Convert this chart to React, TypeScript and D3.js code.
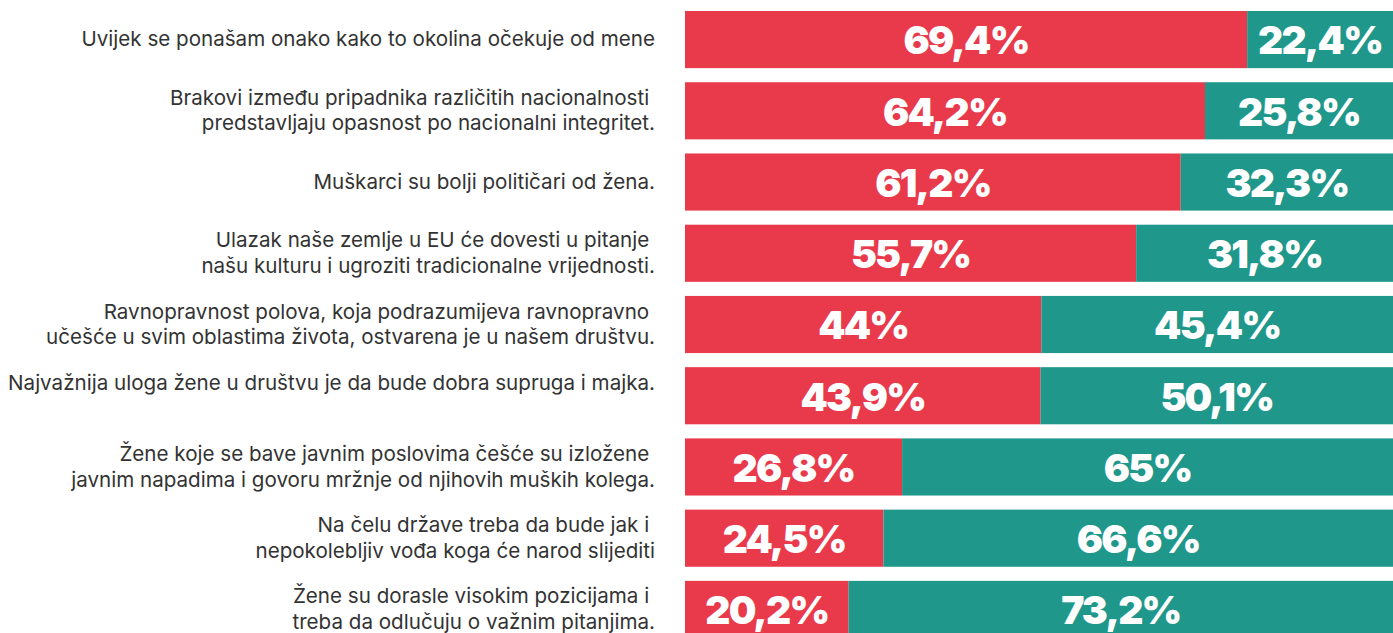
import React from "react";
import * as d3 from "d3";

const categories: string[] = [
  "Uvijek se ponašam onako kako to okolina očekuje od mene",
  "Brakovi između pripadnika različitih nacionalnosti \npredstavljaju opasnost po nacionalni integritet.",
  "Muškarci su bolji političari od žena.",
  "Ulazak naše zemlje u EU će dovesti u pitanje \nnašu kulturu i ugroziti tradicionalne vrijednosti.",
  "Ravnopravnost polova, koja podrazumijeva ravnopravno \nučešće u svim oblastima života, ostvarena je u našem društvu.",
  "Najvažnija uloga žene u društvu je da bude dobra supruga i majka.\n",
  "Žene koje se bave javnim poslovima češće su izložene \njavnim napadima i govoru mržnje od njihovih muških kolega.",
  "Na čelu države treba da bude jak i \nnepokolebljiv vođa koga će narod slijediti",
  "Žene su dorasle visokim pozicijama i \ntreba da odlučuju o važnim pitanjima.",
];
const agreeValues: number[] = [69.4, 64.2, 61.2, 55.7, 44, 43.9, 26.8, 24.5, 20.2];
const disagreeValues: number[] = [22.4, 25.8, 32.3, 31.8, 45.4, 50.1, 65, 66.6, 73.2];
const agreeLabels: string[] = ["69,4%", "64,2%", "61,2%", "55,7%", "44%", "43,9%", "26,8%", "24,5%", "20,2%"];
const disagreeLabels: string[] = ["22,4%", "25,8%", "32,3%", "31,8%", "45,4%", "50,1%", "65%", "66,6%", "73,2%"];

const W = 1393;
const H = 633;
const RED = "#e93a4b";
const TEAL = "#1f978b";

export default function App() {
  const x = d3.scaleLinear().domain([0, 100]).range([685, 685 + 810]);
  const y = d3
    .scaleBand<number>()
    .domain(d3.range(categories.length))
    .range([11, 638])
    .paddingInner(0.198)
    .paddingOuter(0);
  const bw = y.bandwidth();
  const lineH = 25.5;

  return (
    <svg
      width={W}
      height={H}
      style={{ position: "absolute", left: 0, top: 0, overflow: "hidden" }}
    >
      <rect x={0} y={0} width={W} height={H} fill="#ffffff" />
      {categories.map((c, i) => {
        const y0 = y(i)!;
        const cy = y0 + bw / 2;
        const xr0 = x(0);
        const xr1 = x(agreeValues[i]);
        const xt1 = x(agreeValues[i] + disagreeValues[i]);
        const lines = c.split("\n");
        const visEnd = Math.min(xt1, W);
        return (
          <g key={i}>
            <rect x={xr0} y={y0} width={xr1 - xr0} height={bw} fill={RED} />
            <rect x={xr1} y={y0} width={xt1 - xr1} height={bw} fill={TEAL} />
            <text
              x={(xr0 + xr1) / 2}
              y={cy}
              dy="0.38em"
              textAnchor="middle"
              fill="#ffffff"
              fontFamily="Inter, 'Noto Sans', sans-serif"
              fontWeight={900}
              fontSize={39}
              letterSpacing={-1.8}
            >
              {agreeLabels[i]}
            </text>
            <text
              x={(xr1 + visEnd) / 2}
              y={cy}
              dy="0.38em"
              textAnchor="middle"
              fill="#ffffff"
              fontFamily="Inter, 'Noto Sans', sans-serif"
              fontWeight={900}
              fontSize={39}
              letterSpacing={-1.8}
            >
              {disagreeLabels[i]}
            </text>
            <text
              textAnchor="end"
              fill="#333333"
              fontFamily="Inter, 'Noto Sans', sans-serif"
              fontWeight={400}
              fontSize={20.6}
              style={{ whiteSpace: "pre" }}
            >
              {lines.map((ln, j) => (
                <tspan
                  key={j}
                  x={655}
                  y={cy + (j - (lines.length - 1) / 2) * lineH}
                  dy="0.33em"
                >
                  {ln}
                </tspan>
              ))}
            </text>
          </g>
        );
      })}
    </svg>
  );
}
